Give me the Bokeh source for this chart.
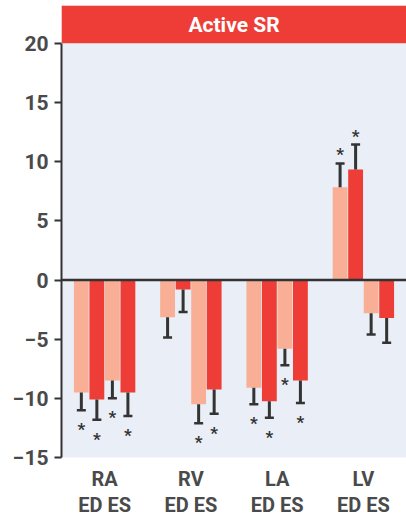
from bokeh.plotting import figure
from bokeh.models import (ColumnDataSource, FactorRange, Range1d, FixedTicker,
                          Span, BoxAnnotation, Label)
from bokeh.transform import dodge
from bokeh.core.properties import value
from bokeh.embed import file_html
from bokeh.resources import INLINE

# ---- data ----
groups = ["RA\nED ES", "RV\nED ES", "LA\nED ES", "LV\nED ES"]
y_ticks = [-15, -10, -5, 0, 5, 10, 15, 20]
panel_title = "Active SR"

ed_light = [-9.5, -3.15, -9.1, 7.85]
ed_dark = [-10.1, -0.8, -10.25, 9.35]
es_light = [-8.5, -10.5, -5.8, -2.8]
es_dark = [-9.5, -9.25, -8.5, -3.2]

err_ed_light = [1.5, 1.7, 1.4, 2.0]
err_ed_dark = [1.7, 1.9, 1.4, 2.1]
err_es_light = [1.5, 1.6, 1.4, 1.8]
err_es_dark = [2.0, 2.05, 1.9, 2.1]

sig_ed_light = [True, False, True, True]
sig_ed_dark = [True, False, True, True]
sig_es_light = [True, True, True, False]
sig_es_dark = [True, True, True, False]

LIGHT = "#F9AE96"
DARK = "#EE3D37"
BG = "#EAEFF7"
INK = "#333333"
LABEL = "#4A4A4A"
FONT = "Roboto"

series = [
    (ed_light, err_ed_light, sig_ed_light, LIGHT, -0.27),
    (ed_dark, err_ed_dark, sig_ed_dark, DARK, -0.09),
    (es_light, err_es_light, sig_es_light, LIGHT, 0.09),
    (es_dark, err_es_dark, sig_es_dark, DARK, 0.27),
]

p = figure(width=406, height=519, output_backend="svg", toolbar_location=None,
           x_range=FactorRange(*groups, range_padding=0),
           y_range=Range1d(-15, 23.2),
           min_border_left=61, min_border_right=0, min_border_top=5,
           min_border_bottom=60)
p.background_fill_color = BG
p.border_fill_color = "white"
p.outline_line_color = None
p.grid.visible = False

# header band
p.add_layout(BoxAnnotation(bottom=20, fill_color=DARK, fill_alpha=1.0,
                           line_color=None, level="underlay"))
p.add_layout(Label(x=2, y=21.55, text=panel_title, text_color="white",
                   text_font=FONT, text_font_style="bold",
                   text_font_size="21px", text_align="center",
                   text_baseline="middle"))

W = 0.172
for vals, errs, sigs, color, off in series:
    ends = [v - e if v < 0 else v + e for v, e in zip(vals, errs)]
    sg = [g for g, s in zip(groups, sigs) if s]
    sy = [en for en, s in zip(ends, sigs) if s]
    soff = [19 if en < 0 else -9 for en, s in zip(ends, sigs) if s]
    src = ColumnDataSource(dict(g=groups, v=vals, e=ends))
    ssrc = ColumnDataSource(dict(g=sg, y=sy, o=soff, t=["*"] * len(sg)))
    x = dodge("g", off, range=p.x_range)
    p.vbar(x=x, top="v", bottom=0, width=W, source=src,
           fill_color=color, line_color=None)
    p.segment(x0=x, y0="v", x1=x, y1="e", source=src,
              line_color=INK, line_width=3)
    p.scatter(x=x, y="e", marker="dash", size=9, line_width=2.5,
              line_color=INK, source=src)
    p.text(x=dodge("g", off, range=p.x_range), y="y", text="t", y_offset="o",
           source=ssrc, text_color=INK, text_font=value(FONT),
           text_font_style="bold", text_font_size="17px",
           text_align="center", text_baseline="middle")

p.add_layout(Span(location=0, dimension="width", line_color=INK, line_width=2.5))

# y axis
yax = p.yaxis[0]
yax.ticker = FixedTicker(ticks=y_ticks)
yax.bounds = (-15, 20)
yax.axis_line_color = INK
yax.axis_line_width = 2
yax.major_tick_line_color = INK
yax.major_tick_line_width = 2
yax.major_tick_out = 7
yax.major_tick_in = 0
yax.minor_tick_line_color = None
yax.major_label_text_font = FONT
yax.major_label_text_font_style = "bold"
yax.major_label_text_font_size = "21px"
yax.major_label_text_color = LABEL
yax.major_label_standoff = 6

# x axis
xax = p.xaxis[0]
xax.axis_line_color = None
xax.major_tick_line_color = None
xax.minor_tick_line_color = None
xax.major_label_text_font = FONT
xax.major_label_text_font_style = "bold"
xax.major_label_text_font_size = "20px"
xax.major_label_text_color = LABEL
xax.major_label_text_line_height = 1.1
xax.major_label_standoff = 3

open("out.html", "w").write(file_html(p, INLINE))
